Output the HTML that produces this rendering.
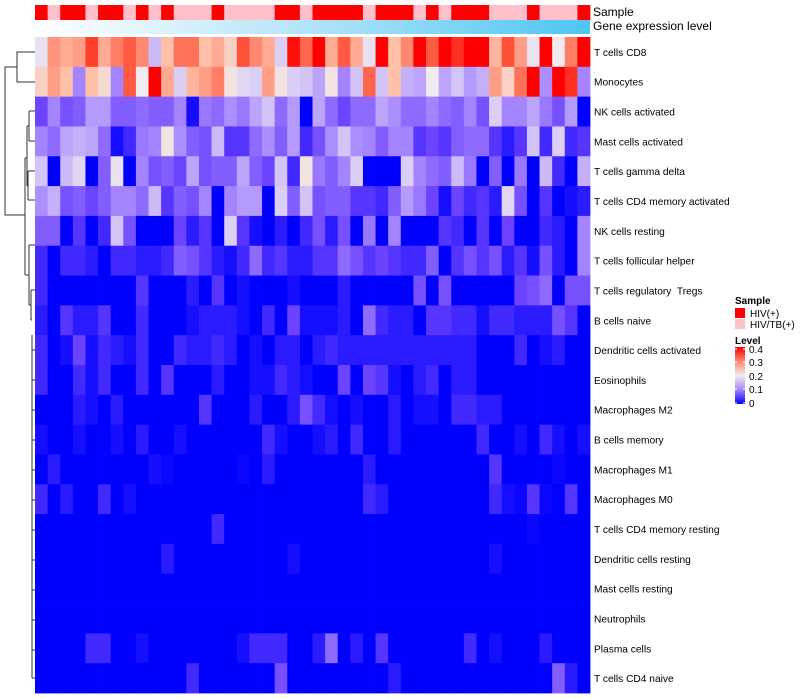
<!DOCTYPE html>
<html><head><meta charset="utf-8"><title>Immune cell heatmap</title>
<style>
html,body{margin:0;padding:0;background:#fff;width:800px;height:700px;overflow:hidden}
svg{display:block}
text{font-family:"Liberation Sans",sans-serif;fill:#000}
</style></head>
<body>
<svg id="chart" width="800" height="700" viewBox="0 0 800 700">
<defs>
<linearGradient id="geneGrad" x1="0" x2="1" y1="0" y2="0">
<stop offset="0" stop-color="#ffffff"/><stop offset="0.5" stop-color="#b2e3f8"/><stop offset="1" stop-color="#4cc6f2"/>
</linearGradient>
<linearGradient id="levelGrad" x1="0" x2="0" y1="1" y2="0">
<stop offset="0" stop-color="#0000ff"/><stop offset="0.25" stop-color="#a484ff"/><stop offset="0.5" stop-color="#efebee"/><stop offset="0.75" stop-color="#ff8870"/><stop offset="1" stop-color="#ff0000"/>
</linearGradient>
</defs>
<g id="samplebar"></g>
<rect x="35" y="20" width="555" height="14" fill="url(#geneGrad)"/>
<text x="593" y="16" font-size="12">Sample</text>
<text x="593" y="30" font-size="12">Gene expression level</text>
<g id="cells"></g>
<g id="rowlabels"></g>
<g fill="none" stroke="#333" stroke-width="1">
<path d="M35 52H17V82H35M17 67H5V215H25M25 158V275M25 158H27M27 126V186M27 126H29M29 111V141M29 111H35M29 141H35M27 186H28M28 171V200M28 171H35M28 200H35M25 275H29M29 245V305M29 245H35M29 305H31M31 290V320M31 290H35M31 320H32M32 335V660M32 350H35M32 380H35M32 410H35M32 440H35M32 470H35M32 500H35M32 530H35M32 560H35M32 590H35M32 620H35M32 650H35M32 678H35M32 660V678"/>
</g>
<g>
<text x="735" y="304" font-size="10" font-weight="bold">Sample</text>
<rect x="735" y="308" width="10" height="10" fill="#ff0000"/>
<text x="750" y="317" font-size="10">HIV(+)</text>
<rect x="735" y="319" width="10" height="10" fill="#ffc0cb"/>
<text x="750" y="328" font-size="10">HIV/TB(+)</text>
<text x="735" y="344" font-size="10" font-weight="bold">Level</text>
<rect x="735" y="347" width="10" height="57" fill="url(#levelGrad)"/>
<g stroke="#fff" stroke-width="1">
<path d="M735 349H737M743 349H745M735 362H737M743 362H745M735 376H737M743 376H745M735 389H737M743 389H745M735 403H737M743 403H745"/>
</g>
<text x="749" y="353" font-size="10">0.4</text>
<text x="749" y="366" font-size="10">0.3</text>
<text x="749" y="380" font-size="10">0.2</text>
<text x="749" y="393" font-size="10">0.1</text>
<text x="749" y="407" font-size="10">0</text>
</g>
</svg>
<script>
const rowNames = ["T cells CD8","Monocytes","NK cells activated","Mast cells activated","T cells gamma delta","T cells CD4 memory activated","NK cells resting","T cells follicular helper","T cells regulatory  Tregs","B cells naive","Dendritic cells activated","Eosinophils","Macrophages M2","B cells memory","Macrophages M1","Macrophages M0","T cells CD4 memory resting","Dendritic cells resting","Mast cells resting","Neutrophils","Plasma cells","T cells CD4 naive"];
const sampleGroups = ["R","P","R","R","P","R","R","P","R","P","R","P","P","P","R","P","P","P","P","R","R","P","R","R","R","R","P","R","R","R","P","R","P","R","R","R","P","P","P","R","P","P","P","R"];
// values in hundredths (level*100)
const r0 = [19,29,27,28,36,27,31,34,30,15,25,32,32,25,27,23,35,30,27,17,39,33,40,27,34,27,19,40,25,30,40,34,40,37,40,40,26,35,28,19,40,20,31,40];
const r1 = [23,28,25,10,25,22,10,34,20,40,27,17,26,28,31,21,18,17,28,21,17,16,13,21,10,16,33,16,25,14,13,20,13,16,12,14,28,23,32,40,11,40,37,10];
const r2 = [5,10,6,7,12,12,7,7,8,7,7,10,1,9,8,11,9,13,16,8,12,0,13,8,5,8,8,13,11,8,8,10,8,7,10,6,17,10,10,13,9,6,12,0];
const r3 = [10,8,13,14,13,8,1,3,9,10,21,11,7,6,15,4,4,8,11,7,12,3,6,11,16,11,10,7,10,10,4,5,4,7,8,8,4,2,4,16,3,17,3,4];
const r4 = [16,0,15,18,0,7,19,0,10,6,7,5,13,6,7,7,13,7,5,16,3,21,9,7,10,17,0,0,0,17,10,8,7,15,9,0,7,0,9,0,15,3,0,14];
const r5 = [11,14,6,7,5,7,10,10,8,15,4,7,6,10,0,10,12,12,0,17,7,16,6,7,7,4,4,3,7,12,9,5,1,5,3,4,2,18,6,0,4,0,1,2];
const r6 = [7,7,0,4,0,3,16,6,0,0,0,5,2,4,0,17,4,1,0,2,0,3,6,2,6,0,9,0,10,0,0,0,4,3,0,4,0,5,0,0,3,2,0,10];
const r7 = [3,0,3,3,2,0,3,3,2,2,3,7,6,4,2,1,3,8,3,4,2,2,4,4,8,6,4,5,4,3,3,7,0,4,6,4,6,2,4,1,6,2,0,10];
const r8 = [3,0,0,0,0,0,0,0,4,0,0,0,2,0,4,0,1,0,0,0,1,0,0,0,2,0,0,0,0,0,6,0,6,0,0,0,0,0,5,6,8,0,6,6];
const r9 = [2,0,4,2,2,4,0,0,3,0,0,0,1,2,2,2,1,0,3,0,5,1,1,1,2,0,8,3,2,2,0,4,4,3,3,1,3,3,2,2,2,6,4,0];
const r10 = [3,0,1,5,1,3,2,1,3,0,0,3,2,2,3,2,0,1,0,2,2,0,2,3,2,2,2,2,2,2,2,2,2,2,2,0,0,0,3,0,1,2,0,0];
const r11 = [3,0,0,3,1,3,0,0,3,0,4,0,0,0,2,0,0,1,1,3,2,1,0,0,5,0,5,4,1,0,2,3,0,2,2,0,0,0,0,0,0,0,0,0];
const r12 = [0,0,0,2,1,0,2,0,0,0,0,0,0,4,0,0,0,2,0,0,2,6,3,1,0,1,0,0,2,0,1,1,0,3,3,2,2,0,0,0,0,0,0,0];
const r13 = [1,0,0,1,0,0,1,0,2,0,0,1,0,0,0,0,0,0,3,1,0,0,1,2,0,3,0,0,2,0,0,0,0,0,0,3,0,0,1,0,3,1,0,1];
const r14 = [0,2,0,0,0,0,0,0,0,1,0.5,0,0,0,0,0,0.5,0,2,0,0,0,0,0,0,0,2,0,0,0,0,0,0,0,0,0,4,0,0,0,0,0.5,0,0];
const r15 = [3,0,2,0,0,3,0,1,0,0,0,0,0,0,0,0,0,0,0,0,0,0,0,0,0,0,3,2,0,0,0,0,0,0,0,0,3,1,0.5,4,0.5,0,4,0];
const r16 = [0,0,0,0,0,0,0,0,0,0,0,0,0,0,3,0,0,0,0,0,0,0,0,0,0,0,0,0,0,0,0,0,0,0,0,0,0,0,0,0.5,0,0,0,0];
const r17 = [0,0,0,0,0,0,0,0,0,0,2,0,0,0,0,0,0,0,0,0,1,0,0,0,0,0,0,0,0,0,0,0,0,0,0,0,1,0,0,0,0,0,0,0];
const r18 = [0,0,0,0,0,0,0,0,0,0,0,0,0,0,0,0,0,0,0,0,0,0,0,0,0,0,0,0,0,0,0,0,0,0,0,0,0,0,0,0,0,0,0,0];
const r19 = [0,0,0,0,0,0,0,0,0,0,0,0,0,0,0,0,0,0,0,0,0,0,0,0,0,0,0,0,0,0,0,0,0,0,0,0,0,0,0,0,0,0,0,0];
const r20 = [0,0,0,0,3,3,0,0,1,0,0,0,0,0,0,0,1,3,3,3,0,0,2,8,0,2,0,4,0,0,0,0,0,0,3,0,1,0,0,0,2,0,0,0];
const r21 = [0,0,0,0,0,0,0,0,0,0,0,0,3,0,0,0,0,0,0,6,0,0,0,0,0,0,0,0,2,0,0,0,0,0,0,0,0,0,0,0,0,7,2,0];
const matrix = [r0,r1,r2,r3,r4,r5,r6,r7,r8,r9,r10,r11,r12,r13,r14,r15,r16,r17,r18,r19,r20,r21];

const X0 = 35, X1 = 590, Y0 = 37, Y1 = 693;
const nCols = sampleGroups.length, nRows = rowNames.length;
const colW = (X1 - X0) / nCols, rowH = (Y1 - Y0) / nRows;
const xPos = i => X0 + i * colW;
const yPos = j => Y0 + j * rowH;
const stops = [[0,[0,0,255]],[5,[108,68,255]],[10,[164,132,255]],[15,[204,186,248]],[20,[239,235,238]],[25,[255,192,168]],[30,[255,136,112]],[35,[255,80,56]],[40,[255,0,0]]];
function colorOf(v){
  v = Math.max(0, Math.min(40, v));
  for (let k = 1; k < stops.length; k++) {
    if (v <= stops[k][0]) {
      const a = stops[k-1], b = stops[k], t = (v - a[0]) / (b[0] - a[0]);
      const c = a[1].map((x, i) => Math.round(x + (b[1][i] - x) * t));
      return `rgb(${c[0]},${c[1]},${c[2]})`;
    }
  }
  return "rgb(255,0,0)";
}
const NS = "http://www.w3.org/2000/svg";
const sb = document.getElementById("samplebar");
sampleGroups.forEach((g, i) => {
  const r = document.createElementNS(NS, "rect");
  r.setAttribute("x", xPos(i)); r.setAttribute("y", 5);
  r.setAttribute("width", colW + 0.4); r.setAttribute("height", 15);
  r.setAttribute("fill", g === "R" ? "#ff0000" : "#ffc0cb");
  
  
  sb.appendChild(r);
});
const cells = document.getElementById("cells");
matrix.forEach((row, j) => {
  row.forEach((v, i) => {
    const r = document.createElementNS(NS, "rect");
    r.setAttribute("x", xPos(i)); r.setAttribute("y", yPos(j));
    r.setAttribute("width", colW + 0.4); r.setAttribute("height", rowH + 0.4);
    r.setAttribute("fill", colorOf(v));
    
    
    cells.appendChild(r);
  });
});
const rl = document.getElementById("rowlabels");
rowNames.forEach((n, j) => {
  const t = document.createElementNS(NS, "text");
  t.setAttribute("x", 594); t.setAttribute("y", yPos(j) + rowH / 2 + 4);
  t.setAttribute("font-size", "10.2");
  t.setAttribute("style", "white-space:pre");
  t.textContent = n;
  
  
  rl.appendChild(t);
});
</script>
</body></html>
